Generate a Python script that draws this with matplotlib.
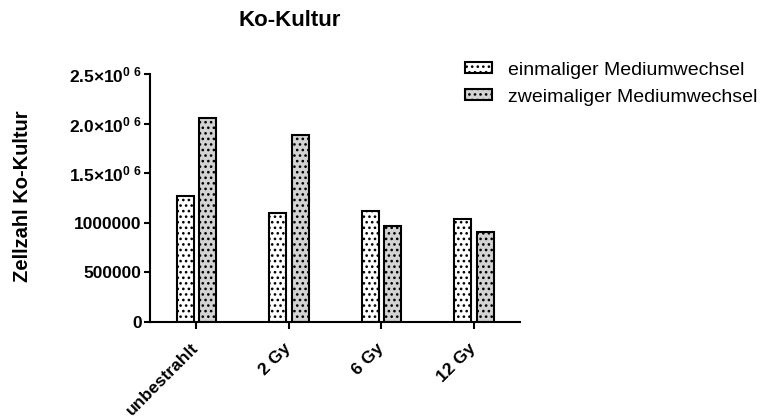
import numpy as np
import matplotlib
matplotlib.use("Agg")
import matplotlib.pyplot as plt
from matplotlib.ticker import FixedLocator, FixedFormatter

plt.rcParams['font.family'] = ['Liberation Sans', 'DejaVu Sans']
plt.rcParams['mathtext.fontset'] = 'custom'
plt.rcParams['mathtext.rm'] = 'Liberation Sans:bold'
plt.rcParams['mathtext.bf'] = 'Liberation Sans:bold'
plt.rcParams['hatch.linewidth'] = 1.1

# data
groups = ["unbestrahlt", "2 Gy", "6 Gy", "12 Gy"]
einmalig = [1273000, 1095000, 1118000, 1034000]
zweimalig = [2055000, 1886000, 970000, 909000]
series_names = ["einmaliger Mediumwechsel", "zweimaliger Mediumwechsel"]
y_ticks = [0, 500000, 1000000, 1500000, 2000000, 2500000]
y_tick_labels = ["0", "500000", "1000000",
                 r"$\mathbf{1.5{\times}10^{0\ 6}}$",
                 r"$\mathbf{2.0{\times}10^{0\ 6}}$",
                 r"$\mathbf{2.5{\times}10^{0\ 6}}$"]

fig = plt.figure(figsize=(7.64, 4.17), dpi=100)
ax = fig.add_axes([150 / 764, 1 - 322 / 417, 370 / 764, 248 / 417])

x = np.arange(len(groups))
w = 0.184
ax.bar(x - 0.121, einmalig, width=w, color='white', edgecolor='black',
       linewidth=1.5, hatch='...', label=series_names[0])
ax.bar(x + 0.122, zweimalig, width=w, color='#d3d3d3', edgecolor='black',
       linewidth=1.5, hatch='...', label=series_names[1])

ax.set_xlim(-0.5, 3.5)
ax.set_ylim(0, 2500000)
ax.set_xticks(x)
ax.set_xticklabels(groups, rotation=45, ha='right', va='center',
                   rotation_mode='anchor', fontsize=12.5, fontweight='bold')
ax.yaxis.set_major_locator(FixedLocator(y_ticks))
ax.yaxis.set_major_formatter(FixedFormatter(y_tick_labels))
for lab in ax.get_yticklabels():
    lab.set_fontsize(12.5)
    lab.set_fontweight('bold')

for s in ['top', 'right']:
    ax.spines[s].set_visible(False)
for s in ['left', 'bottom']:
    ax.spines[s].set_linewidth(1.5)
ax.tick_params(axis='y', length=4, width=1.5, pad=2)
ax.tick_params(axis='x', length=5, width=1.5, pad=12)

fig.text(290 / 764, 1 - 21 / 417, "Ko-Kultur", fontsize=16, fontweight='bold',
         ha='center', va='center')
fig.text(23 / 764, 1 - 196 / 417, "Zellzahl Ko-Kultur", fontsize=14.5,
         fontweight='bold', rotation=90, ha='center', va='center')

fig.legend(loc='upper left', bbox_to_anchor=(457 / 764, 1 - 54 / 417),
           frameon=False, fontsize=14, handlelength=1.4, handleheight=0.5,
           handletextpad=0.8, labelspacing=0.5, borderaxespad=0)

fig.savefig("out.png", dpi=100)
